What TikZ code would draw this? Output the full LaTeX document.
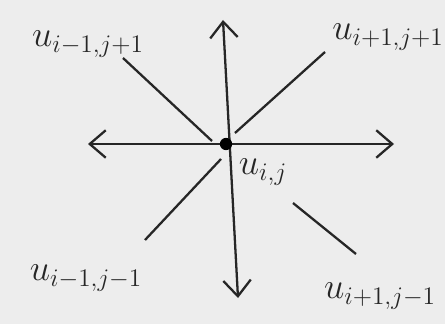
\documentclass[tikz,border=0pt]{standalone}
\usetikzlibrary{arrows.meta}
\begin{document}
\begin{tikzpicture}[x=0.02cm,y=-0.02cm,
  ink/.style={line width=1.3pt,draw=black!85},
  axis/.style={ink,{Straight Barb[length=3.2mm,width=5.5mm]}-{Straight Barb[length=3.2mm,width=5.5mm]}},
  lbl/.style={font=\huge,inner sep=0pt,text=black!85}]
\fill[black!7] (0,0) rectangle (445,324);
\useasboundingbox (0,0) rectangle (445,324);
\coordinate (L) at (88,144);
\coordinate (R) at (394,144);
\coordinate (T) at (223,20);
\coordinate (B) at (238,298);
\draw[axis] (L) -- (R);
\draw[axis] (T) -- (B);
\node[circle,fill=black,inner sep=0pt,minimum size=7pt] (c) at (226,144) {};
\coordinate (a1) at (123,58);  \coordinate (a2) at (212,141);
\coordinate (b1) at (235,133); \coordinate (b2) at (325,52);
\coordinate (d1) at (221,159); \coordinate (d2) at (145,240);
\coordinate (e1) at (293,203); \coordinate (e2) at (356,254);
\draw[ink] (a1) -- (a2);
\draw[ink] (b1) -- (b2);
\draw[ink] (d1) -- (d2);
\draw[ink] (e1) -- (e2);
\node[lbl] (nw) at (88,44) {$u_{i-1,j+1}$};
\node[lbl] (ne) at (388,37) {$u_{i+1,j+1}$};
\node[lbl] (cc) at (263,172) {$u_{i,j}$};
\node[lbl] (sw) at (86,278) {$u_{i-1,j-1}$};
\node[lbl] (se) at (380,296) {$u_{i+1,j-1}$};
\end{tikzpicture}
\end{document}
